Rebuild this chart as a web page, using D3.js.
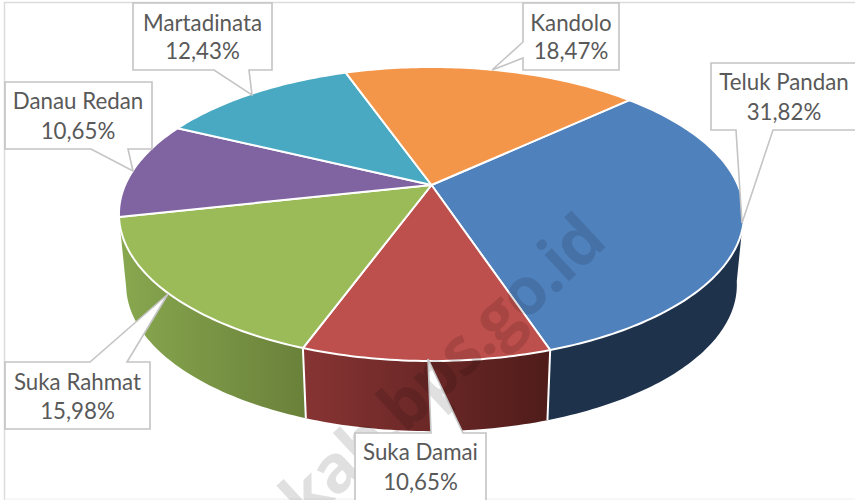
<!DOCTYPE html>
<html><head><meta charset="utf-8">
<script src="https://cdnjs.cloudflare.com/ajax/libs/d3/7.8.5/d3.min.js"></script>
<style>html,body{margin:0;padding:0;background:#fff}svg{display:block}</style>
</head><body><svg id="c" width="855" height="500"></svg>
<script>
const categories = ["Teluk Pandan","Suka Damai","Suka Rahmat","Danau Redan","Martadinata","Kandolo"];
const values = [31.82,10.65,15.98,10.65,12.43,18.47];
const valueLabels = ["31,82%","10,65%","15,98%","10,65%","12,43%","18,47%"];
const topColors = ["#4f81bd","#bd4f4c","#9bbb59","#8064a2","#4aa9c2","#f4964a"];
const wallLeft = ["#1f324c","#873433","#88a84f"];
const wallRight = ["#1f324c","#4f1c1a","#6a813a"];
const watermark = "kab.bps.go.id";

const svg = d3.select("#c");
const W = 855, H = 500;
const deg = Math.PI/180;
const k = 0.1973;
const xS = d3.scaleLinear().domain([-1,1]).range([431.5-306.4,431.5+306.4]);
const yS = d3.scaleLinear().domain([-1,1]).range([185-141.3,185+141.3]);
const cx = xS(0), cy = yS(0);
function rimTop(t){const u=Math.sin(t),v=-Math.cos(t),w=1-k*v;return [xS(u/w),yS(v/w)];}
function rimBot(t){const p=rimTop(t);return [cx+(p[0]-cx)*0.977, cy+(p[1]-cy)*0.995+71];}
const pie = d3.pie().sort(null).value(d=>d).startAngle(47.1*deg).endAngle(407.1*deg);
const arcs = pie(values);
const line = d3.line();
function samples(a,b){const n=Math.max(2,Math.ceil((b-a)/deg));return d3.range(n+1).map(i=>a+(b-a)*i/n);}

// frame
svg.append("path").attr("d",`M4.5,500V2.5H${W}`).attr("fill","none").attr("stroke","#dcdcdc").attr("stroke-width",1.5);
svg.append("path").attr("d",`M4.5,499H${W}`).attr("fill","none").attr("stroke","#f0f0f0").attr("stroke-width",1);

// gradients
const defs = svg.append("defs");
const walls = arcs.slice(0,3);
walls.forEach((a,i)=>{
  const x0=rimTop(a.startAngle)[0], x1=rimTop(a.endAngle)[0];
  const g = defs.append("linearGradient").attr("id","w"+i).attr("gradientUnits","userSpaceOnUse")
    .attr("x1",Math.min(x0,x1)).attr("x2",Math.max(x0,x1)).attr("y1",0).attr("y2",0);
  g.append("stop").attr("offset",0).attr("stop-color",wallLeft[i]);
  g.append("stop").attr("offset",1).attr("stop-color",wallRight[i]);
});

// walls
const lim0 = 100*deg;
walls.forEach((a,i)=>{
  const ts=samples(Math.max(a.startAngle,lim0),a.endAngle);
  const pts=ts.map(rimTop).concat(ts.slice().reverse().map(rimBot));
  svg.append("path").attr("d",line(pts)+"Z").attr("fill",`url(#w${i})`);
});
walls.slice(0,2).forEach(a=>{
  svg.append("path").attr("d",line([rimTop(a.endAngle),rimBot(a.endAngle)])).attr("stroke","#fff").attr("stroke-width",2).attr("fill","none");
});

// top slices
arcs.forEach((a,i)=>{
  const pts=[[cx,cy]].concat(samples(a.startAngle,a.endAngle).map(rimTop));
  svg.append("path").attr("d",line(pts)+"Z").attr("fill",topColors[i]).attr("stroke","#fff").attr("stroke-width",2).attr("stroke-linejoin","round");
});

// callouts: box + pointer outline
const callouts = [
 {i:0,d:"M711,63H857V130H773L742,223L736,130H711Z",box:[711,63,146,67],tx:784,b:[90,120]},
 {i:1,d:"M355,433H431L428,359L463,433H486V510H355Z",box:[355,433,131,77],tx:420.5,b:[460,490]},
 {i:2,d:"M5,362H90L168,294L127,362H150V429H5Z",box:[5,362,145,67],tx:77.5,b:[390,419]},
 {i:3,d:"M5,82H152V149H128L133,171L91,149H5Z",box:[5,82,147,67],tx:78,b:[109,139]},
 {i:4,d:"M133,3H272V70H249L252,95L214,70H133Z",box:[133,3,139,67],tx:202.5,b:[31,59]},
 {i:5,d:"M523,3H619V70H523V58L492,70L523,42Z",box:[523,3,96,67],tx:571,b:[31,59]}
];
const g = svg.append("g");
callouts.forEach(c=>g.append("path").attr("d",c.d).attr("fill","#fff"));

// watermark
svg.append("text").attr("transform","translate(608,245) rotate(-43)").attr("text-anchor","end")
  .attr("font-family","Open Sans, sans-serif").attr("font-weight",700).attr("font-size",66).attr("letter-spacing",-1.8)
  .attr("fill","#000").attr("fill-opacity",0.12).text(watermark);

// box fills cover the watermark, then outlines and text
callouts.forEach(c=>{
  svg.append("rect").attr("x",c.box[0]).attr("y",c.box[1]).attr("width",c.box[2]).attr("height",c.box[3]).attr("fill","#fff");
});
callouts.forEach(c=>{
  svg.append("path").attr("d",c.d).attr("fill","none").attr("stroke","#c4c4c4").attr("stroke-width",1.6);
  const t = svg.append("g").attr("font-family","Lato, sans-serif").attr("font-size",22.3).attr("fill","#595959").attr("text-anchor","middle");
  t.append("text").attr("x",c.tx).attr("y",c.b[0]).text(categories[c.i]);
  t.append("text").attr("x",c.tx).attr("y",c.b[1]).text(valueLabels[c.i]);
});
</script></body></html>
